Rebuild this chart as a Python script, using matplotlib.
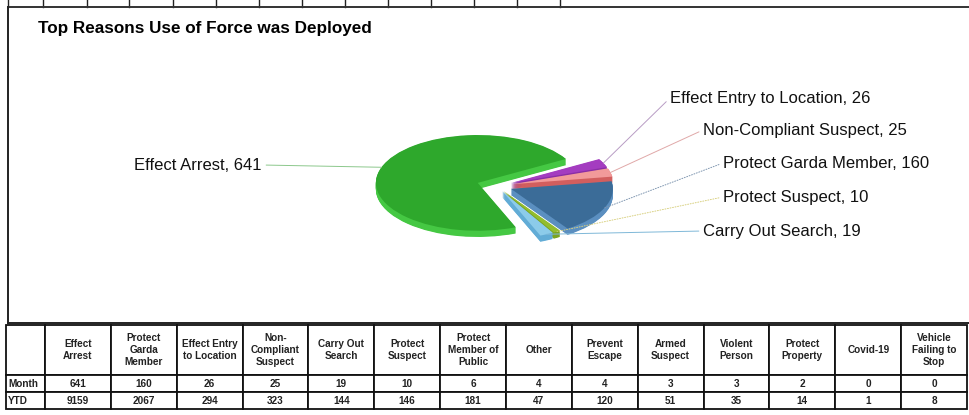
import numpy as np
import matplotlib.pyplot as plt
from matplotlib.lines import Line2D
from matplotlib.table import Table

plt.rcParams['font.family'] = ['Liberation Sans', 'DejaVu Sans']

# pie data (counter-clockwise order starting from Effect Arrest)
pie_labels = ['Effect Arrest', 'Carry Out Search', 'Protect Suspect',
              'Protect Garda Member', 'Non-Compliant Suspect', 'Effect Entry to Location']
pie_values = [641, 19, 10, 160, 25, 26]
top_colors = ['#2ea82c', '#8ccbea', '#93bd2e', '#3b6c98', '#f29a9a', '#a43cc0']
side_colors = ['#45c843', '#62acd6', '#7aa420', '#5b8fc0', '#d25e5e', '#8a2ea6']
line_colors = ['#8cc88c', '#7fb8d8', '#d8d080', '#7f96b0', '#e0a8a8', '#b89cc4']
explode = [0.2, 0.12, 0.12, 0.15, 0.15, 0.15]

# table data
categories = ['Effect\nArrest', 'Protect\nGarda\nMember', 'Effect Entry\nto Location',
              'Non-\nCompliant\nSuspect', 'Carry Out\nSearch', 'Protect\nSuspect',
              'Protect\nMember of\nPublic', 'Other', 'Prevent\nEscape', 'Armed\nSuspect',
              'Violent\nPerson', 'Protect\nProperty', 'Covid-19', 'Vehicle\nFailing to\nStop']
month = [641, 160, 26, 25, 19, 10, 6, 4, 4, 3, 3, 2, 0, 0]
ytd = [9159, 2067, 294, 323, 144, 146, 181, 47, 120, 51, 35, 14, 1, 8]
row_names = ['Month', 'YTD']

W, H = 970, 415
def fx(px):
    return px / W
def fy(py):
    return 1 - py / H

fig = plt.figure(figsize=(9.7, 4.15), dpi=100)

# strip of boxes at the very top (cropped table above)
strip_x = [8, 43, 87, 129, 173, 216, 259, 302, 345, 388, 431, 474, 517, 560]
for sx in strip_x:
    fig.add_artist(Line2D([fx(sx), fx(sx)], [fy(0), fy(7.5)], color='#222', lw=1.0))

# chart frame
fig.add_artist(Line2D([fx(8), fx(970)], [fy(7.5), fy(7.5)], color='#333', lw=1.4))
fig.add_artist(Line2D([fx(8), fx(8)], [fy(7.5), fy(323)], color='#222', lw=1.4))
fig.add_artist(Line2D([fx(8), fx(970)], [fy(323), fy(323)], color='#222', lw=1.4))

fig.text(fx(38), fy(28), 'Top Reasons Use of Force was Deployed',
         fontsize=12.3, fontweight='bold', va='center', ha='left')

# pie axes, squashed to look like a tilted 3D pie
ax = fig.add_axes([fx(334), fy(186 + 67), 326 / W, 134 / H])
depth = 0.13
n_layers = 12
for k in range(n_layers, 0, -1):
    d = depth * k / n_layers
    ax.pie(pie_values, colors=side_colors, startangle=30, explode=explode,
           center=(0, -d), wedgeprops=dict(linewidth=0))
wedges, _ = ax.pie(pie_values, colors=top_colors, startangle=30, explode=explode,
                   wedgeprops=dict(linewidth=0))
ax.set_aspect('auto')
ax.set_xlim(-1.6, 1.6)
ax.set_ylim(-1.4, 1.4)
ax.axis('off')

# labels with leader lines
label_pos = [(262, 165, 'right'), (703, 231, 'left'), (723, 197, 'left'),
             (723, 163, 'left'), (703, 130, 'left'), (670, 98, 'left')]
label_ls = ['-', '-', ':', ':', '-', '-']
for w, lab, val, (px, py, ha), lc, ls in zip(wedges, pie_labels, pie_values,
                                            label_pos, line_colors, label_ls):
    th = np.deg2rad((w.theta1 + w.theta2) / 2)
    cx, cy = w.center
    ax_pt = (cx + w.r * np.cos(th), cy + w.r * np.sin(th))
    ax.annotate(f'{lab}, {val}', xy=ax_pt, xycoords='data',
                xytext=(fx(px), fy(py)), textcoords='figure fraction',
                ha=ha, va='center', fontsize=12, color='#111',
                arrowprops=dict(arrowstyle='-', color=lc, lw=0.7, ls=ls,
                                shrinkA=1, shrinkB=0,
                                relpos=(1, 0.5) if ha == 'right' else (0, 0.5)))

# table built cell by cell
tax = fig.add_axes([fx(6), fy(409), (967 - 6) / W, (409 - 325) / H])
tax.axis('off')
tab = Table(tax, bbox=[0, 0, 1, 1])
rows = [[''] + categories,
        [row_names[0]] + [str(v) for v in month],
        [row_names[1]] + [str(v) for v in ytd]]
row_h = [50, 17, 17]
for r, row in enumerate(rows):
    for c, txt in enumerate(row):
        loc = 'left' if (c == 0 and r > 0) else 'center'
        cell = tab.add_cell(r, c, width=39 if c == 0 else 66, height=row_h[r],
                            text=txt, loc=loc, edgecolor='#111')
        cell.set_linewidth(1.3)
        cell.get_text().set_fontweight('bold')
        cell.get_text().set_color('#222')
        if c == 0:
            cell.PAD = 0.05
tab.auto_set_font_size(False)
tab.set_fontsize(7.2)
tax.add_table(tab)

fig.savefig('out.png', dpi=100)
